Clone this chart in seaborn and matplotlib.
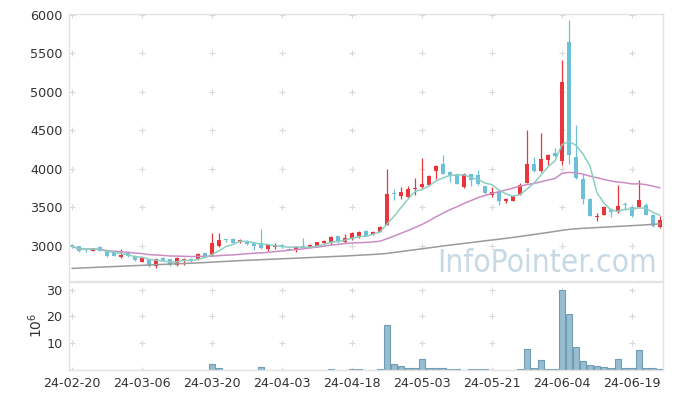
import numpy as np
import pandas as pd
import matplotlib
matplotlib.use("Agg")
import matplotlib.pyplot as plt
from matplotlib import font_manager as fm
import seaborn as sns

# ---------------- data ----------------
opens = [3010, 2995, 2955, 2930, 2983, 2939, 2913, 2848, 2905, 2870,
         2790, 2826, 2739, 2839, 2826, 2748, 2808, 2830, 2826, 2905,
         2875, 2991, 3078, 3091, 3043, 3065, 3030, 3039, 2952, 2978,
         3013, 2961, 2943, 2992, 2978, 3000, 3030, 3043, 3126, 3043,
         3087, 3108, 3196, 3152, 3183, 3270, 3680, 3652, 3630, 3735,
         3761, 3791, 3970, 4065, 3956, 3935, 3761, 3926, 3913, 3770,
         3665, 3696, 3575, 3587, 3665, 3817, 4065, 3970, 4109, 4204,
         4100, 5652, 4152, 3861, 3609, 3370, 3400, 3478, 3435, 3535,
         3500, 3500, 3535, 3404, 3239]
highs = [3015, 3000, 2970, 2975, 2990, 2950, 2920, 2955, 2910, 2875,
         2850, 2830, 2835, 2850, 2830, 2850, 2840, 2840, 2910, 2910,
         3170, 3160, 3090, 3095, 3090, 3070, 3035, 3217, 3020, 3030,
         3020, 2965, 2995, 3100, 3020, 3050, 3070, 3125, 3130, 3150,
         3175, 3185, 3200, 3190, 3255, 4000, 3740, 3760, 3780, 3880,
         4143, 3920, 4050, 4174, 3970, 3945, 3945, 3935, 3990, 3780,
         3760, 3720, 3625, 3660, 3810, 4500, 4150, 4470, 4190, 4270,
         5413, 5935, 4565, 3935, 3620, 3430, 3510, 3490, 3783, 3570,
         3510, 3848, 3550, 3415, 3380]
lows = [2975, 2920, 2915, 2925, 2925, 2855, 2860, 2845, 2850, 2795,
        2785, 2720, 2715, 2800, 2740, 2740, 2750, 2790, 2815, 2850,
        2870, 2985, 3050, 3030, 3030, 3015, 2945, 2955, 2925, 2960,
        2970, 2940, 2920, 2980, 2970, 2985, 3025, 3010, 3035, 3040,
        3080, 3100, 3125, 3145, 3180, 3265, 3600, 3605, 3620, 3665,
        3740, 3780, 3870, 3930, 3830, 3800, 3755, 3780, 3790, 3675,
        3630, 3525, 3560, 3580, 3660, 3810, 3960, 3960, 4050, 4150,
        4043, 4056, 3870, 3545, 3380, 3320, 3395, 3370, 3420, 3470,
        3378, 3495, 3400, 3245, 3230]
closes = [2990, 2930, 2945, 2965, 2930, 2860, 2870, 2883, 2860, 2808,
          2835, 2730, 2826, 2808, 2748, 2843, 2830, 2800, 2896, 2860,
          3040, 3078, 3070, 3035, 3074, 3022, 3000, 2965, 3013, 3000,
          2978, 2943, 2987, 2985, 3013, 3043, 3065, 3117, 3043, 3096,
          3160, 3178, 3130, 3183, 3248, 3674, 3670, 3704, 3739, 3745,
          3796, 3900, 4030, 3935, 3913, 3805, 3935, 3848, 3805, 3683,
          3696, 3578, 3609, 3652, 3783, 4065, 3970, 4130, 4183, 4161,
          5130, 4174, 3878, 3609, 3391, 3391, 3500, 3435, 3522, 3525,
          3383, 3600, 3404, 3252, 3339]
volume_m = [0, 0, 0, 0, 0, 0, 0, 0, 0, 0,
            0, 0, 0, 0, 0, 0, 0, 0, 0, 0,
            2.2, 0.6, 0, 0, 0, 0, 0, 1.0, 0, 0,
            0, 0, 0, 0, 0, 0, 0, 0.2, 0, 0,
            0.2, 0.2, 0, 0, 0.25, 16.9, 2.1, 1.4, 0.6, 0.6,
            4.0, 0.6, 0.6, 0.6, 0.25, 0.25, 0, 0.25, 0.25, 0.25,
            0, 0, 0, 0, 0.25, 8.0, 0.6, 3.6, 0.25, 0.25,
            29.9, 20.7, 8.4, 3.3, 1.7, 1.4, 1.0, 0.6, 4.0, 0.6,
            0.6, 7.3, 0.6, 0.6, 0.25]
ma_long = [2705, 2709, 2713, 2717, 2721, 2725, 2729, 2733, 2737, 2741,
           2745, 2749, 2753, 2757, 2761, 2765, 2769, 2773, 2777, 2781,
           2786, 2791, 2796, 2801, 2806, 2810, 2814, 2818, 2822, 2826,
           2830, 2834, 2838, 2842, 2846, 2850, 2854, 2858, 2862, 2866,
           2871, 2876, 2881, 2886, 2892, 2900, 2912, 2924, 2936, 2948,
           2960, 2972, 2984, 2996, 3008, 3019, 3030, 3041, 3052, 3063,
           3074, 3085, 3096, 3108, 3120, 3133, 3146, 3159, 3172, 3186,
           3200, 3212, 3220, 3226, 3231, 3236, 3241, 3246, 3251, 3256,
           3261, 3266, 3272, 3278, 3284]
tick_labels = ['24-02-20', '24-03-06', '24-03-20', '24-04-03', '24-04-18',
               '24-05-03', '24-05-21', '24-06-04', '24-06-19']
price_ticks = [3000, 3500, 4000, 4500, 5000, 5500, 6000]
vol_ticks = [10, 20, 30]
watermark = 'InfoPointer.com'

# ---------------- styling ----------------
sns.set_style("white")
plt.rcParams['font.family'] = ['DejaVu Sans']

RED = '#e8363c'
BLUE = '#6cc1d9'
TEAL = '#8ccfc2'
PINK = '#cc8cc4'
GRAY = '#9a9a9a'
FRAME = '#e3e3e3'
CROSS = '#d9d9d9'
TXT = '#333333'

df = pd.DataFrame({'idx': np.arange(len(closes)), 'open': opens, 'high': highs,
                   'low': lows, 'close': closes, 'vol': volume_m, 'ma_long': ma_long})
df['ma5'] = df['close'].rolling(5, min_periods=1).mean()
df['ma20'] = df['close'].rolling(20, min_periods=1).mean()
up = df['close'] >= df['open']
df['col'] = np.where(up, RED, BLUE)

W, H = 673, 399
fig = plt.figure(figsize=(W / 100, H / 100), dpi=100)
L, R = 69.3, 663
ax1 = fig.add_axes([L / W, 1 - 281 / H, (R - L) / W, (281 - 14) / H])
ax2 = fig.add_axes([L / W, 1 - 370 / H, (R - L) / W, (370 - 281.5) / H])

xlim = (-0.39, len(closes) - 1 + 0.43)
tick_pos = list(range(0, len(closes), 10))[:len(tick_labels)]

# grid crosses
def crosses(ax, ys):
    gx, gy = np.meshgrid(tick_pos, ys)
    ax.scatter(gx.ravel(), gy.ravel(), marker='+', s=18, color=CROSS,
               linewidths=0.8, zorder=0)

crosses(ax1, price_ticks)
crosses(ax2, [0] + vol_ticks)

# candles
ax1.vlines(df['idx'], df['low'], df['high'], colors=df['col'], linewidth=0.9, zorder=2)
body_bottom = np.minimum(df['open'], df['close'])
body_h = np.maximum(np.abs(df['close'] - df['open']), 14)
ax1.bar(df['idx'], body_h, bottom=body_bottom, width=0.68, color=df['col'],
        linewidth=0, zorder=3)

# moving averages
sns.lineplot(data=df, x='idx', y='ma_long', ax=ax1, color=GRAY, linewidth=1.1, zorder=4)
sns.lineplot(data=df, x='idx', y='ma20', ax=ax1, color=PINK, linewidth=1.1, zorder=4)
sns.lineplot(data=df, x='idx', y='ma5', ax=ax1, color=TEAL, linewidth=1.1, zorder=5)

ax1.set_xlim(*xlim)
ax1.set_ylim(2541, 6013)
ax1.set_yticks(price_ticks)
ax1.set_yticklabels([str(v) for v in price_ticks])
ax1.set_xticks([])
ax1.set_xlabel('')
ax1.set_ylabel('')

# volume
ax2.bar(df['idx'], df['vol'], width=0.92, color='#97bdcf', edgecolor='#6f9db5',
        linewidth=0.8, zorder=2)
ax2.set_xlim(*xlim)
ax2.set_ylim(0, 33)
ax2.set_yticks(vol_ticks)
ax2.set_yticklabels([str(v) for v in vol_ticks])
ax2.set_xticks(tick_pos)
ax2.set_xticklabels(tick_labels)
ax2.set_ylabel(r'$10^6$', color=TXT, fontsize=10, labelpad=1)

for ax in (ax1, ax2):
    for s in ax.spines.values():
        s.set_color(FRAME)
        s.set_linewidth(1.0)
    ax.tick_params(length=0, labelsize=9.2, colors=TXT, pad=5)
    ax.set_facecolor('white')

# watermark: prefer a narrow/condensed face if one is installed
wm_font = None
for f in fm.fontManager.ttflist:
    nm = f.name.lower()
    if (('narrow' in nm or 'condensed' in nm or str(f.stretch) in ('condensed', 'semi-condensed', '300', '400'))
            and f.style == 'normal' and f.weight in (400, 'normal', 'regular')):
        wm_font = fm.FontProperties(fname=f.fname)
        break
if wm_font is None:
    wm_font = fm.FontProperties(family='DejaVu Sans')

wm = fig.text(437 / W, 1 - 272 / H, watermark, fontproperties=wm_font,
              color='#c6d9e4', ha='left', va='baseline', zorder=10)
wm.set_fontsize(27.5)
renderer = fig.canvas.get_renderer()
bb = wm.get_window_extent(renderer=renderer)
wm.set_fontsize(27.5 * 220.0 / bb.width)

fig.savefig('out.png', dpi=100, facecolor='white')
